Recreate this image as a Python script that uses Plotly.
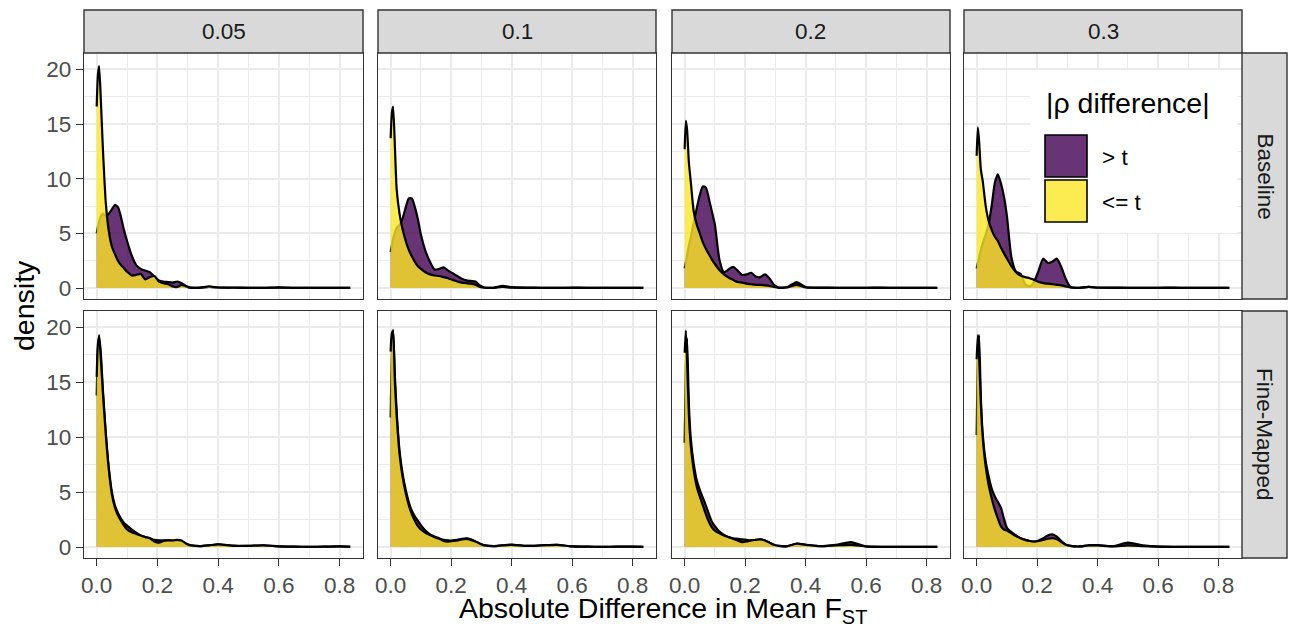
import plotly.graph_objects as go

# ---------------- data ----------------
X_GRID = [0, 0.004, 0.008, 0.014, 0.02, 0.03, 0.04, 0.05, 0.06, 0.07, 0.08, 0.09, 0.1,
          0.115, 0.13, 0.145, 0.16, 0.175, 0.19, 0.205, 0.22, 0.235, 0.25, 0.265, 0.28,
          0.295, 0.31, 0.34, 0.37, 0.4, 0.45, 0.5, 0.55, 0.6, 0.65, 0.7, 0.75, 0.8, 0.835]

# Baseline, t = 0.05
B05_GT = [5.0, 5.6, 6.1, 6.6, 6.8, 6.6, 6.8, 7.2, 7.6, 7.4, 6.5, 5.3, 4.3,
          3.0, 2.1, 1.75, 1.6, 1.45, 1.05, 0.7, 0.6, 0.55, 0.5, 0.6, 0.45,
          0.15, 0.02, 0.02, 0.1, 0.05, 0.03, 0.02, 0.02, 0.06, 0.02, 0.01, 0.01, 0.01, 0.01]
B05_LE = [16.6, 19.5, 20.3, 17.0, 13.0, 7.8, 5.2, 3.8, 3.1, 2.5, 2.1, 1.8, 1.5,
          1.15, 1.2, 1.3, 0.8, 1.0, 1.1, 0.6, 0.45, 0.35, 0.15, 0.1, 0.3,
          0.15, 0.05, 0.05, 0.15, 0.05, 0.05, 0.03, 0.02, 0.04, 0.02, 0.01, 0.01, 0.01, 0.01]
# Baseline, t = 0.1
B10_GT = [3.3, 3.9, 4.5, 5.1, 5.5, 5.8, 6.4, 7.4, 8.2, 8.2, 7.4, 6.3, 4.9,
          3.4, 2.4, 1.7, 1.75, 1.9, 1.6, 1.35, 1.1, 0.85, 0.7, 0.65, 0.6,
          0.25, 0.05, 0.03, 0.2, 0.08, 0.04, 0.03, 0.02, 0.04, 0.03, 0.01, 0.01, 0.01, 0.01]
B10_LE = [13.7, 16.0, 16.6, 13.0, 9.0, 6.7, 5.3, 4.3, 3.5, 2.9, 2.4, 2.0, 1.75,
          1.45, 1.25, 1.15, 1.1, 1.0, 0.9, 0.75, 0.6, 0.5, 0.45, 0.4, 0.3,
          0.1, 0.03, 0.02, 0.1, 0.03, 0.02, 0.02, 0.01, 0.02, 0.01, 0.01, 0.01, 0.01, 0.01]
# Baseline, t = 0.2
B20_GT = [1.8, 2.4, 3.0, 3.9, 4.6, 6.0, 7.3, 8.5, 9.3, 9.2, 8.2, 7.0, 5.8,
          2.6, 1.45, 1.7, 1.95, 1.6, 1.2, 1.25, 1.4, 1.05, 1.0, 1.25, 0.9,
          0.3, 0.05, 0.1, 0.55, 0.1, 0.05, 0.03, 0.02, 0.03, 0.04, 0.02, 0.01, 0.01, 0.01]
B20_LE = [12.7, 15.3, 14.5, 11.5, 9.8, 7.0, 5.8, 5.0, 4.2, 3.6, 3.1, 2.6, 2.2,
          1.65, 1.25, 0.95, 0.75, 0.55, 0.5, 0.4, 0.35, 0.3, 0.3, 0.25, 0.2,
          0.1, 0.03, 0.05, 0.3, 0.05, 0.02, 0.02, 0.01, 0.02, 0.01, 0.01, 0.01, 0.01, 0.01]
# Baseline, t = 0.3
B30_GT = [1.8, 2.3, 2.8, 3.5, 4.1, 4.9, 5.9, 7.6, 9.6, 10.4, 9.6, 8.4, 6.6,
          2.8, 1.5, 1.3, 0.4, 0.15, 0.6, 1.6, 2.7, 2.3, 2.4, 2.7, 1.9,
          0.8, 0.1, 0.02, 0.1, 0.05, 0.04, 0.03, 0.02, 0.03, 0.04, 0.02, 0.01, 0.01, 0.01]
B30_LE = [12.1, 14.7, 13.5, 10.8, 9.8, 7.5, 6.1, 5.3, 4.7, 4.3, 3.7, 3.2, 2.7,
          2.0, 1.45, 1.15, 1.0, 0.9, 0.75, 0.55, 0.45, 0.4, 0.35, 0.3, 0.25,
          0.15, 0.05, 0.02, 0.1, 0.03, 0.02, 0.02, 0.01, 0.02, 0.01, 0.01, 0.01, 0.01, 0.01]
# Fine-Mapped, t = 0.05
F05_GT = [13.8, 18.0, 19.3, 17.5, 14.5, 10.4, 7.2, 5.0, 3.8, 3.1, 2.6, 2.2, 1.95,
          1.6, 1.3, 1.05, 0.9, 0.8, 0.65, 0.6, 0.6, 0.6, 0.55, 0.6, 0.5,
          0.3, 0.15, 0.08, 0.15, 0.25, 0.12, 0.1, 0.15, 0.06, 0.03, 0.02, 0.03, 0.05, 0.03]
F05_LE = [15.5, 18.5, 19.1, 17.0, 14.2, 10.2, 7.0, 4.8, 3.6, 2.9, 2.4, 1.95, 1.6,
          1.35, 1.2, 1.05, 0.9, 0.8, 0.5, 0.4, 0.55, 0.6, 0.6, 0.65, 0.6,
          0.3, 0.15, 0.08, 0.15, 0.25, 0.1, 0.1, 0.15, 0.05, 0.03, 0.02, 0.03, 0.05, 0.02]
# Fine-Mapped, t = 0.1
F10_GT = [11.8, 17.5, 19.8, 15.6, 12.3, 8.6, 6.6, 5.2, 4.1, 3.3, 2.8, 2.4, 2.0,
          1.5, 1.15, 0.95, 0.8, 0.65, 0.6, 0.6, 0.65, 0.75, 0.8, 0.7, 0.5,
          0.3, 0.15, 0.08, 0.15, 0.22, 0.1, 0.15, 0.2, 0.05, 0.03, 0.02, 0.03, 0.03, 0.02]
F10_LE = [17.8, 19.6, 19.4, 15.0, 11.9, 8.3, 6.3, 4.9, 3.8, 3.0, 2.4, 1.9, 1.6,
          1.3, 1.1, 0.9, 0.75, 0.55, 0.5, 0.55, 0.6, 0.7, 0.75, 0.65, 0.5,
          0.3, 0.15, 0.08, 0.15, 0.2, 0.1, 0.15, 0.2, 0.05, 0.03, 0.02, 0.03, 0.03, 0.02]
# Fine-Mapped, t = 0.2
F20_GT = [9.5, 16.5, 19.0, 13.0, 10.0, 7.6, 6.1, 5.2, 4.5, 3.8, 3.0, 2.3, 1.9,
          1.4, 1.1, 0.9, 0.8, 0.75, 0.7, 0.65, 0.6, 0.65, 0.7, 0.6, 0.4,
          0.2, 0.1, 0.08, 0.3, 0.2, 0.08, 0.2, 0.45, 0.05, 0.02, 0.02, 0.02, 0.02, 0.02]
F20_LE = [17.7, 19.7, 17.0, 12.0, 9.3, 7.0, 5.5, 4.6, 3.8, 3.0, 2.3, 1.8, 1.5,
          1.25, 1.05, 0.9, 0.75, 0.6, 0.45, 0.5, 0.6, 0.65, 0.7, 0.6, 0.4,
          0.2, 0.1, 0.08, 0.3, 0.2, 0.08, 0.15, 0.2, 0.05, 0.02, 0.02, 0.02, 0.02, 0.02]
# Fine-Mapped, t = 0.3
F30_GT = [10.2, 17.0, 19.3, 13.5, 10.3, 7.8, 6.4, 5.3, 4.6, 4.1, 3.6, 2.6, 1.75,
          1.35, 1.05, 0.8, 0.65, 0.55, 0.5, 0.6, 0.8, 1.05, 1.15, 0.95, 0.55,
          0.2, 0.1, 0.05, 0.15, 0.18, 0.08, 0.4, 0.15, 0.03, 0.02, 0.02, 0.02, 0.02, 0.02]
F30_LE = [17.1, 19.3, 17.5, 13.0, 10.0, 7.3, 5.6, 4.4, 3.4, 2.6, 1.9, 1.6, 1.5,
          1.25, 1.0, 0.8, 0.65, 0.55, 0.5, 0.55, 0.65, 0.75, 0.8, 0.7, 0.45,
          0.2, 0.1, 0.05, 0.15, 0.15, 0.05, 0.15, 0.08, 0.03, 0.02, 0.02, 0.02, 0.02, 0.02]

COL_LABELS = ["0.05", "0.1", "0.2", "0.3"]
ROW_LABELS = ["Baseline", "Fine-Mapped"]
GROUP_LABELS = ["> t", "<= t"]
LEGEND_TITLE = "|\u03c1 difference|"
X_TICKS = [0, 0.2, 0.4, 0.6, 0.8]
X_TICK_TEXT = ["0.0", "0.2", "0.4", "0.6", "0.8"]
X_MINOR = [0.1, 0.3, 0.5, 0.7]
Y_TICKS = [0, 5, 10, 15, 20]
Y_TICK_TEXT = ["0", "5", "10", "15", "20"]
Y_MINOR = [2.5, 7.5, 12.5, 17.5]

PANELS = [[(B05_GT, B05_LE), (B10_GT, B10_LE), (B20_GT, B20_LE), (B30_GT, B30_LE)],
          [(F05_GT, F05_LE), (F10_GT, F10_LE), (F20_GT, F20_LE), (F30_GT, F30_LE)]]

# ---------------- layout geometry (pixels) ----------------
W, H = 1291, 628
COL_PX = [(84, 363), (378, 656), (672, 950), (964, 1242)]
ROW_PX = [(53, 299), (311, 558)]
STRIP_TOP = (10, 53)
STRIP_RIGHT = (1242, 1287)
X_RANGE = [-0.0418, 0.877]
Y_RANGE = [-1.0, 21.5]

FILL_GT = "rgba(68,1,84,0.8)"
FILL_LE = "rgba(253,231,37,0.8)"
FONT = "Arial, Liberation Sans, sans-serif"
BORDER = "#333333"
GRID = "#EBEBEB"


def px(x):
    return x / W


def py(y):
    return 1 - y / H


fig = go.Figure()
layout = {}
shapes = []
annotations = []

for r in range(2):
    for c in range(4):
        k = r * 4 + c + 1
        xa = "x" if k == 1 else f"x{k}"
        ya = "y" if k == 1 else f"y{k}"
        gt, le = PANELS[r][c]
        for vals, fc in ((gt, FILL_GT), (le, FILL_LE)):
            fig.add_trace(go.Scatter(
                x=X_GRID, y=vals, xaxis=xa, yaxis=ya, mode="lines",
                line=dict(color="black", width=2.2, shape="spline", smoothing=0.6),
                fill="tozeroy", fillcolor=fc, hoverinfo="skip", showlegend=False))
        x0, x1 = COL_PX[c]
        y0, y1 = ROW_PX[r]
        layout[f"xaxis{k}"] = dict(
            domain=[px(x0), px(x1)], range=X_RANGE, anchor=ya,
            tickmode="array", tickvals=X_TICKS, ticktext=X_TICK_TEXT,
            showticklabels=(r == 1), ticks="outside" if r == 1 else "",
            ticklen=7, tickwidth=1.4, tickcolor=BORDER,
            tickfont=dict(family=FONT, size=22.5, color="#4D4D4D"),
            showgrid=True, gridcolor=GRID, gridwidth=2,
            minor=dict(tickvals=X_MINOR, showgrid=True, gridcolor=GRID, gridwidth=1),
            zeroline=False, showline=True, mirror=True, linecolor=BORDER, linewidth=1.4,
            automargin=False, fixedrange=True)
        layout[f"yaxis{k}"] = dict(
            domain=[py(y1), py(y0)], range=Y_RANGE, anchor=xa,
            tickmode="array", tickvals=Y_TICKS, ticktext=Y_TICK_TEXT,
            showticklabels=(c == 0), ticks="outside" if c == 0 else "",
            ticklen=7, tickwidth=1.4, tickcolor=BORDER,
            tickfont=dict(family=FONT, size=22.5, color="#4D4D4D"),
            showgrid=True, gridcolor=GRID, gridwidth=2,
            minor=dict(tickvals=Y_MINOR, showgrid=True, gridcolor=GRID, gridwidth=1),
            zeroline=False, showline=True, mirror=True, linecolor=BORDER, linewidth=1.4,
            automargin=False, fixedrange=True)

# strips
for c, lab in enumerate(COL_LABELS):
    x0, x1 = COL_PX[c]
    shapes.append(dict(type="rect", xref="paper", yref="paper",
                       x0=px(x0), x1=px(x1), y0=py(STRIP_TOP[1]), y1=py(STRIP_TOP[0]),
                       fillcolor="#D9D9D9", line=dict(color=BORDER, width=1.4), layer="above"))
    annotations.append(dict(text=lab, xref="paper", yref="paper", x=px((x0 + x1) / 2),
                            y=py((STRIP_TOP[0] + STRIP_TOP[1]) / 2), showarrow=False,
                            xanchor="center", yanchor="middle",
                            font=dict(family=FONT, size=22.5, color="#1A1A1A")))
for r, lab in enumerate(ROW_LABELS):
    y0, y1 = ROW_PX[r]
    shapes.append(dict(type="rect", xref="paper", yref="paper",
                       x0=px(STRIP_RIGHT[0]), x1=px(STRIP_RIGHT[1]), y0=py(y1), y1=py(y0),
                       fillcolor="#D9D9D9", line=dict(color=BORDER, width=1.4), layer="above"))
    annotations.append(dict(text=lab, xref="paper", yref="paper",
                            x=px((STRIP_RIGHT[0] + STRIP_RIGHT[1]) / 2),
                            y=py((y0 + y1) / 2), showarrow=False, textangle=90,
                            xanchor="center", yanchor="middle",
                            font=dict(family=FONT, size=22.5, color="#1A1A1A")))

# axis titles
annotations.append(dict(text="Absolute Difference in Mean F<sub>ST</sub>", xref="paper", yref="paper",
                        x=px(663), y=py(610), showarrow=False, xanchor="center", yanchor="middle",
                        font=dict(family=FONT, size=28.5, color="black")))
annotations.append(dict(text="density", xref="paper", yref="paper",
                        x=px(24), y=py(305), showarrow=False, textangle=-90,
                        xanchor="center", yanchor="middle",
                        font=dict(family=FONT, size=28.5, color="black")))

# legend (inside the last top panel)
shapes.append(dict(type="rect", xref="paper", yref="paper", x0=px(1030), x1=px(1237),
                   y0=py(233), y1=py(70), fillcolor="white", line=dict(width=0), layer="above"))
annotations.append(dict(text=LEGEND_TITLE, xref="paper", yref="paper", x=px(1044), y=py(103),
                        showarrow=False, xanchor="left", yanchor="middle",
                        font=dict(family=FONT, size=28.5, color="black")))
for i, (lab, fc) in enumerate(zip(GROUP_LABELS, (FILL_GT, FILL_LE))):
    top = 135 + i * 45
    shapes.append(dict(type="rect", xref="paper", yref="paper", x0=px(1045), x1=px(1087),
                       y0=py(top + 42), y1=py(top), fillcolor=fc,
                       line=dict(color="black", width=1.6), layer="above"))
    annotations.append(dict(text=lab, xref="paper", yref="paper", x=px(1100), y=py(top + 22),
                            showarrow=False, xanchor="left", yanchor="middle",
                            font=dict(family=FONT, size=22.5, color="black")))

fig.update_layout(width=W, height=H, margin=dict(l=0, r=0, t=0, b=0),
                  paper_bgcolor="white", plot_bgcolor="white", showlegend=False,
                  shapes=shapes, annotations=annotations, **layout)

fig.write_html("out.html", config={"displayModeBar": False},
               post_script="document.body.style.margin='0';document.body.style.padding='0';")
